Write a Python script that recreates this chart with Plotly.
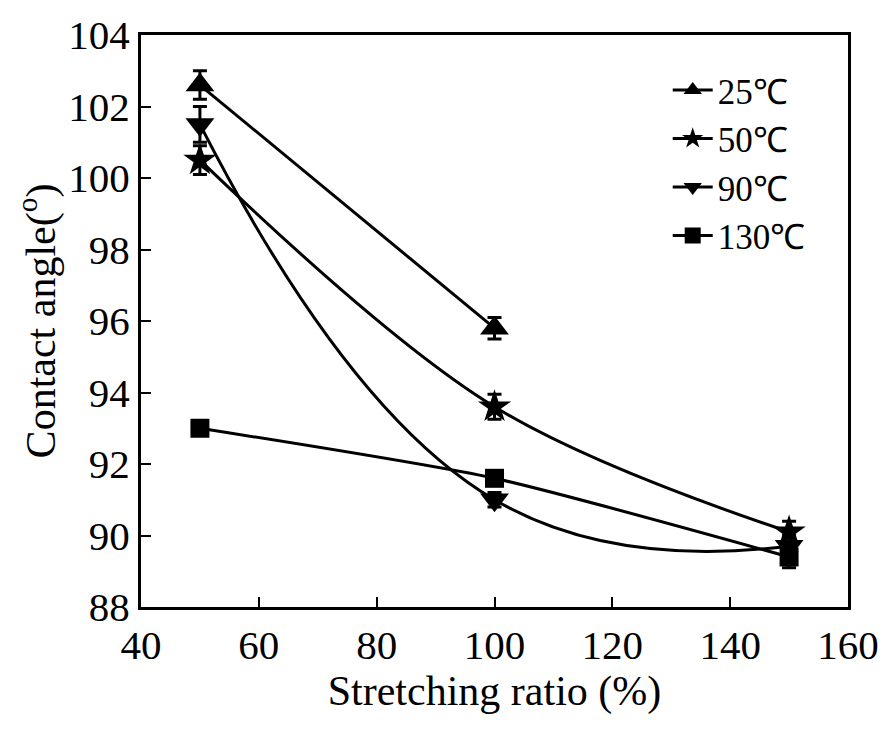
import plotly.graph_objects as go

x_ratio = [50, 100, 150]

names = ["25℃", "50℃", "90℃", "130℃"]
x_25 = [50, 100]
y_25 = [102.6, 95.8]
e_25 = [0.4, 0.3]

y_50 = [100.5, 93.6, 90.1]
e_50 = [0.4, 0.35, 0.3]

y_90 = [101.5, 91.0, 89.7]
e_90 = [0.5, 0.2, 0.3]

y_130 = [93.0, 91.6, 89.4]
e_130 = [0.2, 0.2, 0.3]

x_ticks = [40, 60, 80, 100, 120, 140, 160]
y_ticks = [88, 90, 92, 94, 96, 98, 100, 102, 104]

FONT = "Liberation Serif, Times New Roman, serif"

series = [
    (names[0], x_25, y_25, e_25, "triangle-up", 25, 1.0),
    (names[1], x_ratio, y_50, e_50, "star", 25, 1.0),
    (names[2], x_ratio, y_90, e_90, "triangle-down", 25, 1.3),
    (names[3], x_ratio, y_130, e_130, "square", 19, 0.6),
]

fig = go.Figure()
for name, xs, ys, es, sym, size, smooth in series:
    fig.add_trace(go.Scatter(
        x=xs, y=ys, name=name, mode="lines+markers",
        line=dict(color="black", width=3, shape="spline", smoothing=smooth),
        marker=dict(symbol=sym, size=size, color="black"),
        error_y=dict(type="data", array=es, visible=True, color="black",
                     thickness=3, width=7),
    ))

axis_common = dict(
    showline=True, linecolor="black", linewidth=3, mirror=True,
    ticks="inside", ticklen=10, tickwidth=2, tickcolor="black",
    showgrid=False, zeroline=False,
    tickfont=dict(family=FONT, size=41, color="black"),
)

fig.update_layout(
    width=891, height=734,
    margin=dict(l=141, r=39, t=30, b=127),
    paper_bgcolor="white", plot_bgcolor="white",
    font=dict(family=FONT, color="black"),
    showlegend=True,
    legend=dict(
        x=0.745, y=0.955, xanchor="left", yanchor="top",
        bgcolor="rgba(0,0,0,0)", borderwidth=0,
        font=dict(family=FONT, size=35, color="black"),
        itemwidth=40, tracegroupgap=0,
    ),
    xaxis=dict(
        range=[40, 160], tickvals=x_ticks,
        title=dict(text="Stretching ratio (%)", standoff=0,
                   font=dict(family=FONT, size=42, color="black")),
        **axis_common,
    ),
    yaxis=dict(
        range=[88, 104], tickvals=y_ticks,
        title=dict(text="Contact angle(<sup>o</sup>)", standoff=0,
                   font=dict(family=FONT, size=42, color="black")),
        **axis_common,
    ),
)

fig.write_html("out.html")
